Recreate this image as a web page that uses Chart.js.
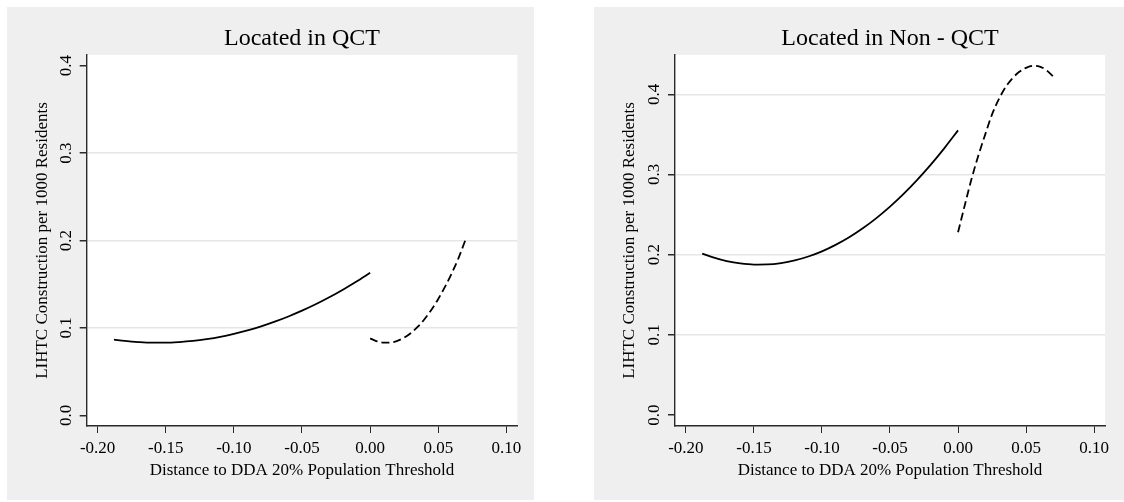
<!DOCTYPE html>
<html>
<head>
<meta charset="utf-8">
<script src="https://cdn.jsdelivr.net/npm/chart.js@4/dist/chart.umd.min.js"></script>
<style>
  html, body { margin: 0; padding: 0; background: #fff; overflow: hidden; }
  .panel { position: absolute; top: 7px; height: 493px; background: #efefef; }
  #painelQct { left: 7px; width: 527px; }
  #painelNonQct { left: 594px; width: 530px; }
</style>
</head>
<body>
<div class="panel" id="painelQct"><canvas id="graficoQct"></canvas></div>
<div class="panel" id="painelNonQct"><canvas id="graficoNonQct"></canvas></div>
<script>
// distancia ao limite DDA (abaixo e acima do corte)
const distBelow = [-0.188, -0.18, -0.17, -0.16, -0.15, -0.14, -0.13, -0.12, -0.11, -0.10,
  -0.09, -0.08, -0.07, -0.06, -0.05, -0.04, -0.03, -0.02, -0.01, 0.0];
const distAbove = [0.0, 0.005, 0.01, 0.015, 0.02, 0.025, 0.03, 0.035, 0.04, 0.045,
  0.05, 0.055, 0.06, 0.065, 0.07];

// LIHTC por 1000 residentes - QCT
const qctBelow = [0.0866, 0.0851, 0.0838, 0.0831, 0.0831, 0.0838, 0.0851, 0.0871, 0.0897, 0.0931,
  0.0971, 0.1017, 0.1071, 0.1131, 0.1197, 0.1270, 0.1350, 0.1437, 0.1530, 0.1630];
const qctAbove = [0.0880, 0.0847, 0.0831, 0.0833, 0.0852, 0.0889, 0.0942, 0.1014, 0.1102, 0.1208,
  0.1331, 0.1472, 0.1629, 0.1805, 0.2010];

// LIHTC por 1000 residentes - Non-QCT
const nonQctBelow = [0.2014, 0.1966, 0.1920, 0.1890, 0.1876, 0.1878, 0.1895, 0.1928, 0.1977, 0.2041,
  0.2122, 0.2217, 0.2329, 0.2456, 0.2599, 0.2758, 0.2933, 0.3123, 0.3329, 0.3550];
const nonQctAbove = [0.228, 0.262, 0.295, 0.324, 0.350, 0.375, 0.394, 0.409, 0.420, 0.428,
  0.433, 0.4355, 0.4345, 0.430, 0.422];

const xTicks = [-0.20, -0.15, -0.10, -0.05, 0.00, 0.05, 0.10];
const yTicks = [0.0, 0.1, 0.2, 0.3, 0.4];

const serif = 'Liberation Serif';

// fundo branco so na area do grafico
const fundoPlot = {
  id: 'fundoPlot',
  beforeDraw(chart) {
    const { ctx, chartArea: a } = chart;
    ctx.save();
    ctx.fillStyle = '#ffffff';
    ctx.fillRect(a.left, a.top, a.right - a.left, a.bottom - a.top);
    ctx.restore();
  }
};

function pares(xs, ys) {
  return xs.map((x, i) => ({ x: x, y: ys[i] }));
}

function criarGrafico(id, titulo, abaixo, acima, yMin, yMax, plotLeft, padRight, semGrade) {
  const ctx = document.getElementById(id).getContext('2d');
  return new Chart(ctx, {
    type: 'line',
    data: {
      datasets: [{
        data: pares(distBelow, abaixo),
        borderColor: '#000',
        borderWidth: 1.8,
        pointRadius: 0,
        cubicInterpolationMode: 'monotone'
      }, {
        data: pares(distAbove, acima),
        borderColor: '#000',
        borderWidth: 1.8,
        borderDash: [8, 4],
        pointRadius: 0,
        cubicInterpolationMode: 'monotone'
      }]
    },
    options: {
      responsive: true,
      maintainAspectRatio: false,
      animation: false,
      layout: { padding: { left: 0, right: padRight, top: 0, bottom: 0 } },
      plugins: {
        legend: { display: false },
        tooltip: { enabled: false },
        title: {
          display: true,
          text: titulo,
          fullSize: false,
          color: '#000',
          font: { family: serif, size: 24, weight: 'normal', lineHeight: 1 },
          padding: { top: 19.6, bottom: 4.4 }
        }
      },
      scales: {
        x: {
          type: 'linear',
          min: -0.208,
          max: 0.108,
          afterBuildTicks: s => { s.ticks = xTicks.map(v => ({ value: v })); },
          afterFit: s => { s.height = 74; },
          border: { color: '#2a2a2a', width: 1.4 },
          grid: { drawOnChartArea: false, drawTicks: true, tickLength: 7, tickColor: '#2a2a2a' },
          ticks: {
            color: '#000',
            font: { family: serif, size: 17 },
            padding: 5.2,
            maxRotation: 0,
            autoSkip: false,
            callback: v => v.toFixed(2)
          },
          title: {
            display: true,
            text: 'Distance to DDA 20% Population Threshold',
            color: '#000',
            font: { family: serif, size: 17 },
            padding: { top: 0, bottom: 19.5 }
          }
        },
        y: {
          type: 'linear',
          min: yMin,
          max: yMax,
          afterBuildTicks: s => { s.ticks = yTicks.map(v => ({ value: v })); },
          afterFit: s => { s.width = plotLeft; },
          border: { color: '#2a2a2a', width: 1.4 },
          grid: {
            color: c => (semGrade.includes(c.tick.value) ? 'rgba(0,0,0,0)' : '#e6e6e6'),
            lineWidth: 1.5,
            drawTicks: true,
            tickLength: 7,
            tickColor: '#2a2a2a'
          },
          ticks: {
            color: '#000',
            font: { family: serif, size: 17 },
            minRotation: 90,
            maxRotation: 90,
            crossAlign: 'center',
            padding: 2.6,
            callback: v => v.toFixed(1)
          },
          title: {
            display: true,
            text: 'LIHTC Construction per 1000 Residents',
            color: '#000',
            font: { family: serif, size: 17 },
            padding: { top: 25, bottom: 0 }
          }
        }
      }
    },
    plugins: [fundoPlot]
  });
}

criarGrafico('graficoQct', 'Located in QCT', qctBelow, qctAbove,
  -0.0122, 0.4122, 79.7, 16.7, [0, 0.4]);
criarGrafico('graficoNonQct', 'Located in Non - QCT', nonQctBelow, nonQctAbove,
  -0.0137, 0.449, 81, 19, [0]);
</script>
</body>
</html>
